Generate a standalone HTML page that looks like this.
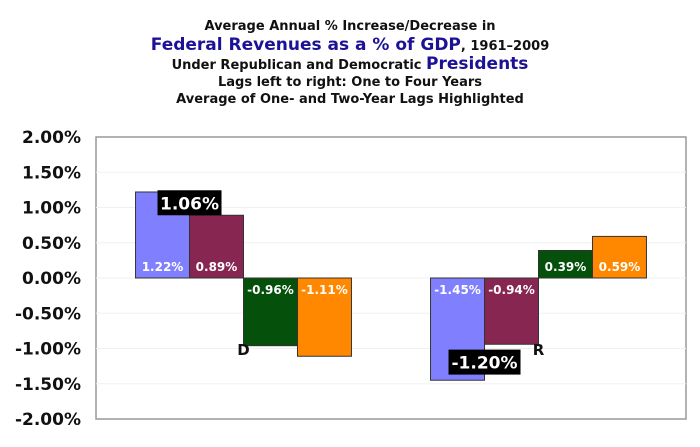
<!DOCTYPE html>
<html><head><meta charset="utf-8"><style>
body{margin:0;background:#fff;width:700px;height:447px;overflow:hidden}
svg{display:block}
</style></head><body>
<svg id="chart" width="700" height="447" xmlns="http://www.w3.org/2000/svg" font-family="DejaVu Sans, Verdana, sans-serif">
<g text-anchor="middle" font-weight="bold" fill="#111">
<text x="350" y="30" font-size="13">Average Annual % Increase/Decrease in</text>
<text x="350" y="50" font-size="13"><tspan fill="#1c1296" font-size="17">Federal Revenues as a % of GDP</tspan>, 1961–2009</text>
<text x="350" y="69" font-size="13">Under Republican and Democratic <tspan fill="#1c1296" font-size="17">Presidents</tspan></text>
<text x="350" y="86" font-size="13">Lags left to right: One to Four Years</text>
<text x="350" y="103" font-size="13">Average of One- and Two-Year Lags Highlighted</text>
</g>
<rect x="96" y="137" width="590" height="282" fill="none" stroke="#999" stroke-width="1.5"/>
<g id="grid"></g><g id="ticks"></g><g id="bars"></g><g id="labels"></g>
</svg>
<script>
const categories=["D","R"];
const lag1=[1.22,-1.45];
const lag2=[0.89,-0.94];
const lag3=[-0.96,0.39];
const lag4=[-1.11,0.59];
const highlights=[1.06,-1.20];
const tickValues=[2,1.5,1,0.5,0,-0.5,-1,-1.5,-2];
const NS="http://www.w3.org/2000/svg";
const L=96,R=686,T=137,B=419,ymin=-2,ymax=2;
const y=v=>T+(ymax-v)/(ymax-ymin)*(B-T);
const catW=(R-L)/categories.length, bw=catW*0.183;
function mk(tag,attrs,parent){const e=document.createElementNS(NS,tag);for(const k in attrs)e.setAttribute(k,attrs[k]);parent.appendChild(e);return e;}
const grid=document.getElementById('grid'),ticks=document.getElementById('ticks'),bars=document.getElementById('bars'),labels=document.getElementById('labels');
tickValues.forEach(v=>{
 if(v!==2&&v!==-2){const g=mk('line',{x1:L,x2:R,y1:y(v),y2:y(v),stroke:'#f0f0f0'},grid);
 
 }
 const t=mk('text',{x:81,y:y(v)+6,'text-anchor':'end','font-size':'17','font-weight':'bold',fill:'#111'},ticks);
 
 
 t.textContent=v.toFixed(2)+'%';
});
const series=[lag1,lag2,lag3,lag4],colors=['#8080ff','#862651','#05500a','#ff8800'];
categories.forEach((c,i)=>{
 const cx=L+catW*(i+0.5);
 series.forEach((s,j)=>{
  const v=s[i],x=cx-2*bw+j*bw,y0=y(0),y1=y(v);
  const r=mk('rect',{x:x,y:Math.min(y0,y1),width:bw,height:Math.abs(y1-y0),fill:colors[j],stroke:'#333','stroke-width':'1'},bars);
  
  
  const t=mk('text',{x:x+bw/2,y:v>=0?y0-7:y0+16,'text-anchor':'middle','font-size':'12','font-weight':'bold',fill:'#fff'},labels);
  
  
  t.textContent=v.toFixed(2)+'%';
 });
 const h=highlights[i],hy=y(h),hx=cx-2*bw+bw*1.0;
 const hb=mk('rect',{x:hx-32-(h<0?4:0),y:hy-13,width:64+(h<0?8:0),height:25,fill:'#000'},labels);
 
 
 const ht=mk('text',{x:hx,y:hy+6,'text-anchor':'middle','font-size':'17','font-weight':'bold',fill:'#fff'},labels);
 
 
 ht.textContent=h.toFixed(2)+'%';
 const ct=mk('text',{x:cx,y:355,'text-anchor':'middle','font-size':'15','font-weight':'bold',fill:'#111'},labels);
 
 
 ct.textContent=c;
});
</script>
</body></html>
